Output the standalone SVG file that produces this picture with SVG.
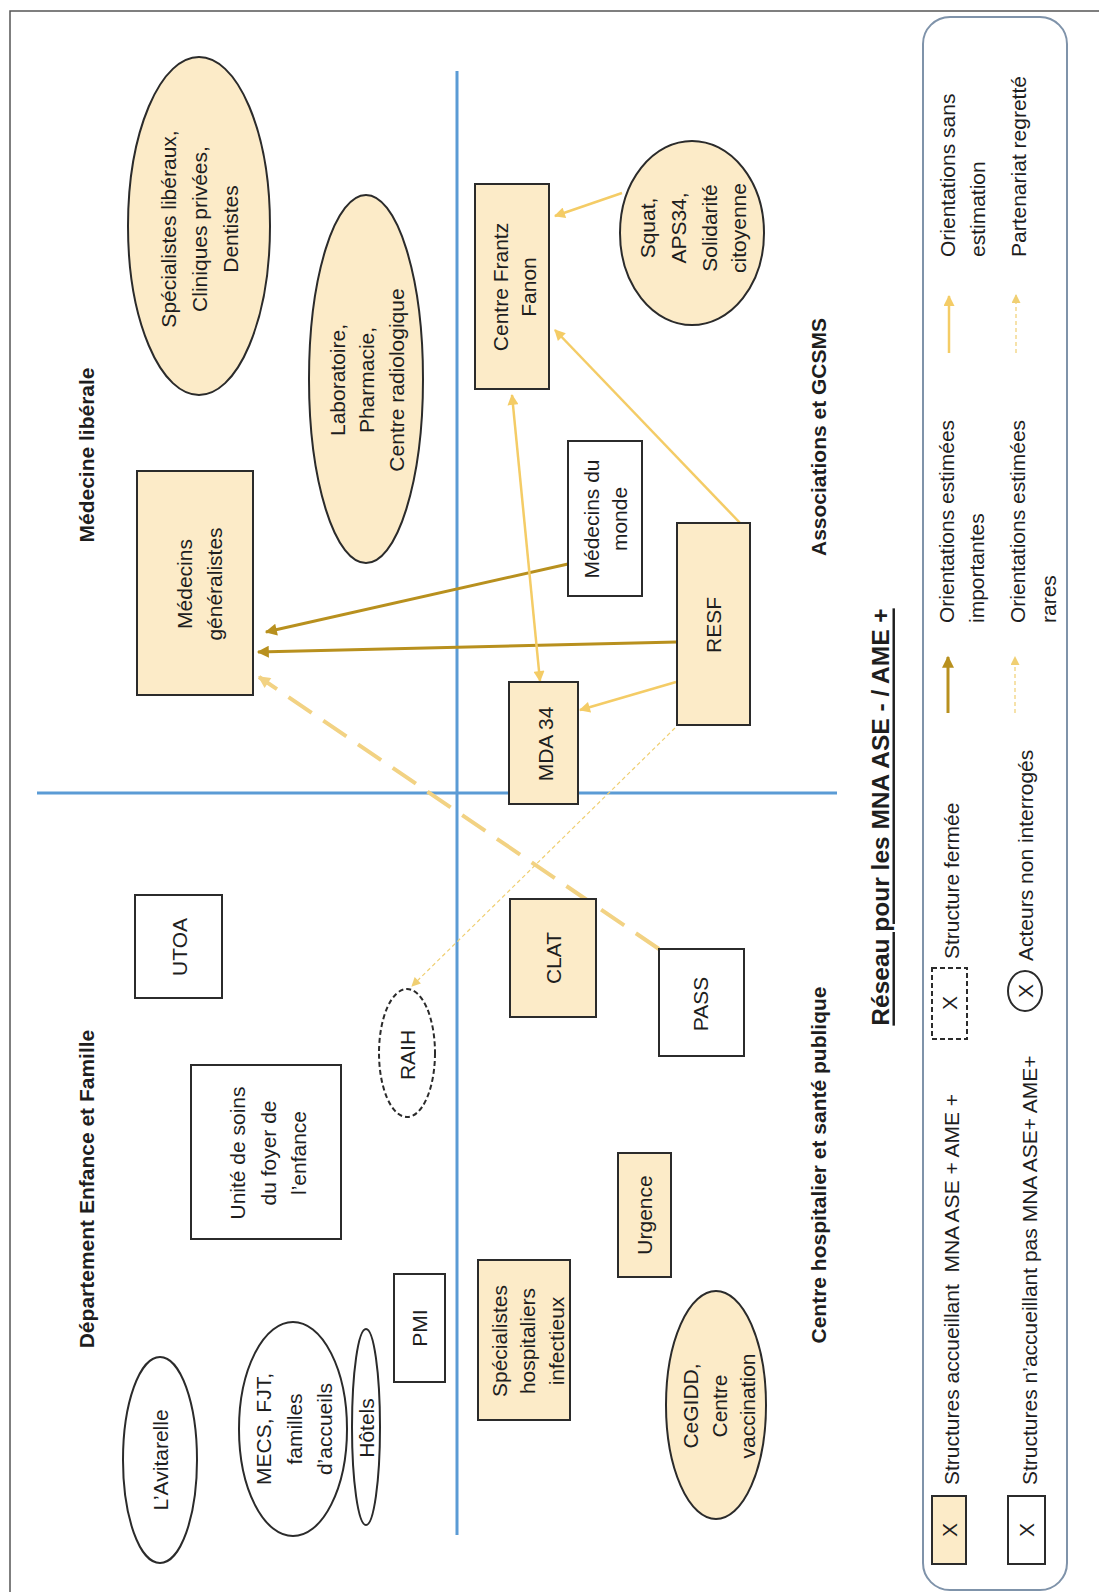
<svg xmlns="http://www.w3.org/2000/svg" width="1099" height="1592" viewBox="0 0 1099 1592">
<defs>
<style>
.n{stroke:#2b2b2b;stroke-width:2}
.c{fill:#FCEBC8}
.w{fill:#ffffff}
.dash{stroke-dasharray:5 3}
.t{font-family:"Liberation Sans",Arial,sans-serif;font-size:21px;fill:#1e1e1e;text-anchor:middle;dominant-baseline:central}
.b{font-weight:bold}
.s{text-anchor:start}
.axis{stroke:#5B9BD5;stroke-width:3;fill:none}
.dk{stroke:#B8901E;stroke-width:3;fill:none;marker-end:url(#aDk)}
.lt{stroke:#F4CC66;stroke-width:2.5;fill:none;marker-end:url(#aLt)}
.th{stroke:#F0CF72;stroke-width:1.2;stroke-dasharray:4 3;fill:none;marker-end:url(#aTh)}
.ld{stroke:#F2D283;stroke-width:4;stroke-dasharray:28 14;fill:none;marker-end:url(#aLd)}
</style>
<marker id="aDk" viewBox="0 0 10 10" refX="9" refY="5" markerWidth="14" markerHeight="12" markerUnits="userSpaceOnUse" orient="auto"><path d="M0,0 L10,5 L0,10 z" fill="#B8901E"/></marker>
<marker id="aLt" viewBox="0 0 10 10" refX="9" refY="5" markerWidth="12" markerHeight="11" markerUnits="userSpaceOnUse" orient="auto-start-reverse"><path d="M0,0 L10,5 L0,10 z" fill="#F4CC66"/></marker>
<marker id="aTh" viewBox="0 0 10 10" refX="9" refY="5" markerWidth="10" markerHeight="9" markerUnits="userSpaceOnUse" orient="auto"><path d="M0,0 L10,5 L0,10 z" fill="#F0CF72"/></marker>
<marker id="aLd" viewBox="0 0 10 10" refX="9" refY="5" markerWidth="14" markerHeight="12" markerUnits="userSpaceOnUse" orient="auto"><path d="M0,0 L10,5 L0,10 z" fill="#F2D283"/></marker>
</defs>
<rect x="0" y="0" width="1099" height="1592" fill="#ffffff"/>
<rect x="10" y="11" width="1110" height="1610" fill="none" stroke="#555" stroke-width="1.5"/>

<g id="axes">
<line class="axis" x1="457" y1="71" x2="457" y2="1535"/>
<line class="axis" x1="37" y1="793" x2="837" y2="793"/>
</g>

<g id="section-labels">
<text class="t b" transform="translate(86,455) rotate(-90)">Médecine libérale</text>
<text class="t b" transform="translate(86,1189) rotate(-90)">Département Enfance et Famille</text>
<text class="t b" transform="translate(818,437) rotate(-90)">Associations et GCSMS</text>
<text class="t b" transform="translate(818,1165) rotate(-90)">Centre hospitalier et santé publique</text>
<text class="t b" style="font-size:24.5px" text-decoration="underline" transform="translate(880,817) rotate(-90)">Réseau pour les MNA ASE - / AME +</text>
</g>

<g id="connectors">
<path class="dk" d="M568,564 L266,632"/>
<path class="dk" d="M677,642 L258,652"/>
<path class="lt" d="M742,525 L555,330"/>
<path class="lt" d="M622,193 L555,216"/>
<path class="lt" style="marker-start:url(#aLt)" d="M512,395 L540,681"/>
<path class="lt" d="M676,682 L580,710"/>
<path class="th" d="M675,728 L412,986"/>
<path class="ld" d="M659,949 L259,677"/>
</g>

<g id="n-specialistes-liberaux">
<ellipse class="n c" cx="199" cy="226" rx="71" ry="169"/>
<text class="t" transform="translate(168,229) rotate(-90)">Spécialistes libéraux,</text>
<text class="t" transform="translate(199,229) rotate(-90)">Cliniques privées,</text>
<text class="t" transform="translate(230,229) rotate(-90)">Dentistes</text>
</g>
<g id="n-laboratoire">
<ellipse class="n c" cx="366" cy="379" rx="57" ry="184"/>
<text class="t" transform="translate(337,380) rotate(-90)">Laboratoire,</text>
<text class="t" transform="translate(366,380) rotate(-90)">Pharmacie,</text>
<text class="t" transform="translate(396,380) rotate(-90)">Centre radiologique</text>
</g>
<g id="n-medecins-generalistes">
<rect class="n c" x="137" y="471" width="116" height="224"/>
<text class="t" transform="translate(184,584) rotate(-90)">Médecins</text>
<text class="t" transform="translate(214,584) rotate(-90)">généralistes</text>
</g>
<g id="n-centre-frantz-fanon">
<rect class="n c" x="475" y="184" width="74" height="205"/>
<text class="t" transform="translate(500,287) rotate(-90)">Centre Frantz</text>
<text class="t" transform="translate(528,287) rotate(-90)">Fanon</text>
</g>
<g id="n-squat">
<ellipse class="n c" cx="692" cy="233" rx="72" ry="92"/>
<text class="t" transform="translate(647,228) rotate(-90)">Squat,</text>
<text class="t" transform="translate(678,228) rotate(-90)">APS34,</text>
<text class="t" transform="translate(709,228) rotate(-90)">Solidarité</text>
<text class="t" transform="translate(738,228) rotate(-90)">citoyenne</text>
</g>
<g id="n-medecins-du-monde">
<rect class="n w" x="568" y="441" width="74" height="155"/>
<text class="t" transform="translate(591,519) rotate(-90)">Médecins du</text>
<text class="t" transform="translate(619,519) rotate(-90)">monde</text>
</g>
<g id="n-resf">
<rect class="n c" x="677" y="523" width="73" height="202"/>
<text class="t" transform="translate(713,625) rotate(-90)">RESF</text>
</g>
<g id="n-mda34">
<rect class="n c" x="509" y="682" width="69" height="122"/>
<text class="t" transform="translate(545,744) rotate(-90)">MDA 34</text>
</g>
<g id="n-utoa">
<rect class="n w" x="135" y="895" width="87" height="103"/>
<text class="t" transform="translate(179,947) rotate(-90)">UTOA</text>
</g>
<g id="n-raih">
<ellipse class="n w dash" cx="407" cy="1053" rx="28" ry="64"/>
<text class="t" transform="translate(407,1055) rotate(-90)">RAIH</text>
</g>
<g id="n-clat">
<rect class="n c" x="510" y="899" width="86" height="118"/>
<text class="t" transform="translate(553,958) rotate(-90)">CLAT</text>
</g>
<g id="n-pass">
<rect class="n w" x="659" y="949" width="85" height="107"/>
<text class="t" transform="translate(700,1004) rotate(-90)">PASS</text>
</g>
<g id="n-unite-soins">
<rect class="n w" x="191" y="1065" width="150" height="174"/>
<text class="t" transform="translate(237,1153) rotate(-90)">Unité de soins</text>
<text class="t" transform="translate(268,1153) rotate(-90)">du foyer de</text>
<text class="t" transform="translate(298,1153) rotate(-90)">l’enfance</text>
</g>
<g id="n-pmi">
<rect class="n w" x="394" y="1274" width="51" height="108"/>
<text class="t" transform="translate(419,1328) rotate(-90)">PMI</text>
</g>
<g id="n-avitarelle">
<ellipse class="n w" cx="160" cy="1460" rx="37" ry="103"/>
<text class="t" transform="translate(160,1460) rotate(-90)">L’Avitarelle</text>
</g>
<g id="n-mecs">
<ellipse class="n w" cx="293" cy="1429" rx="54" ry="107"/>
<text class="t" transform="translate(263,1429) rotate(-90)">MECS, FJT,</text>
<text class="t" transform="translate(294,1429) rotate(-90)">familles</text>
<text class="t" transform="translate(324,1429) rotate(-90)">d’accueils</text>
</g>
<g id="n-hotels">
<ellipse class="n w" cx="366" cy="1427" rx="14" ry="98"/>
<text class="t" transform="translate(366,1428) rotate(-90)">Hôtels</text>
</g>
<g id="n-specialistes-hospitaliers">
<rect class="n c" x="478" y="1260" width="92" height="160"/>
<text class="t" transform="translate(499,1341) rotate(-90)">Spécialistes</text>
<text class="t" transform="translate(527,1341) rotate(-90)">hospitaliers</text>
<text class="t" transform="translate(556,1341) rotate(-90)">infectieux</text>
</g>
<g id="n-urgence">
<rect class="n c" x="618" y="1153" width="53" height="124"/>
<text class="t" transform="translate(644,1215) rotate(-90)">Urgence</text>
</g>
<g id="n-cegidd">
<ellipse class="n c" cx="716" cy="1405" rx="50" ry="114"/>
<text class="t" transform="translate(690,1406) rotate(-90)">CeGIDD,</text>
<text class="t" transform="translate(719,1406) rotate(-90)">Centre</text>
<text class="t" transform="translate(747,1406) rotate(-90)">vaccination</text>
</g>

<g id="legend">
<rect x="923" y="17" width="144" height="1573" rx="27" ry="27" fill="none" stroke="#7F93AA" stroke-width="2"/>
<rect class="n c" x="932" y="1496" width="34" height="68"/>
<text class="t" transform="translate(949,1530) rotate(-90)">X</text>
<text class="t s" transform="translate(951,1485) rotate(-90)">Structures accueillant&#160; MNA ASE + AME +</text>
<rect class="n w" x="1008" y="1496" width="37" height="68"/>
<text class="t" transform="translate(1026,1530) rotate(-90)">X</text>
<text class="t s" transform="translate(1029,1485) rotate(-90)">Structures n’accueillant pas MNA ASE+ AME+</text>
<rect class="n w dash" x="932" y="968" width="35" height="71"/>
<text class="t" transform="translate(949,1003) rotate(-90)">X</text>
<text class="t s" transform="translate(951,959) rotate(-90)">Structure fermée</text>
<ellipse class="n w" cx="1025" cy="991" rx="17" ry="20"/>
<text class="t" transform="translate(1025,991) rotate(-90)">X</text>
<text class="t s" transform="translate(1025,961) rotate(-90)">Acteurs non interrogés</text>
<path class="dk" d="M948,713 L948,657"/>
<text class="t s" transform="translate(946,623) rotate(-90)">Orientations estimées</text>
<text class="t s" transform="translate(976,623) rotate(-90)">importantes</text>
<path class="th" d="M1015,713 L1015,657"/>
<text class="t s" transform="translate(1017,623) rotate(-90)">Orientations estimées</text>
<text class="t s" transform="translate(1048,623) rotate(-90)">rares</text>
<path class="lt" d="M949,353 L949,296"/>
<text class="t s" transform="translate(947,257) rotate(-90)">Orientations sans</text>
<text class="t s" transform="translate(977,257) rotate(-90)">estimation</text>
<path class="th" d="M1016,353 L1016,295"/>
<text class="t s" transform="translate(1018,257) rotate(-90)">Partenariat regretté</text>
</g>
</svg>
